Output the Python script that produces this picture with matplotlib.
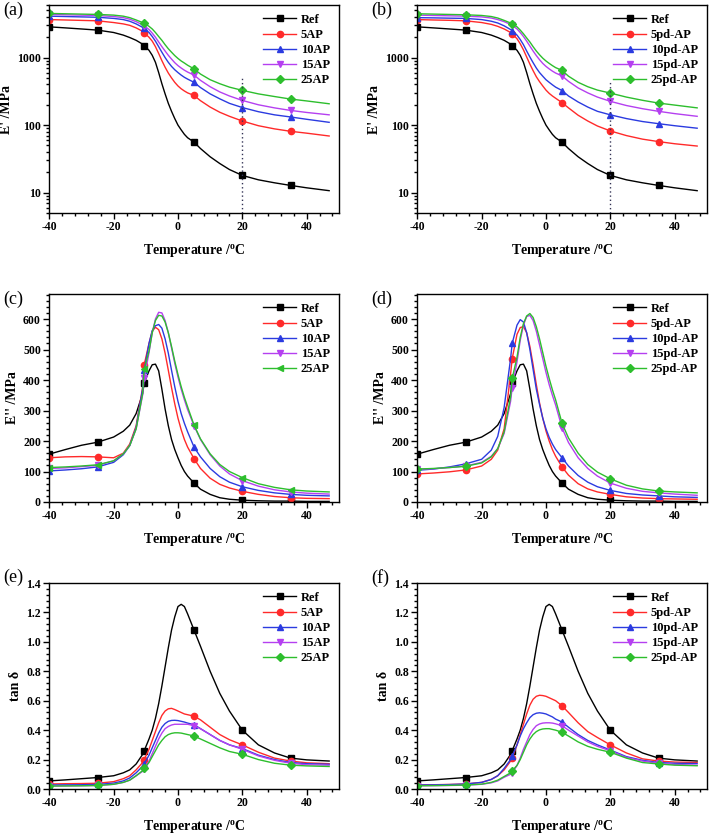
import numpy as np
import matplotlib
matplotlib.use('Agg')
import matplotlib.pyplot as plt
from matplotlib.ticker import AutoMinorLocator, NullFormatter, LogLocator

plt.rcParams['font.family'] = ['Liberation Serif', 'DejaVu Serif']
plt.rcParams['font.weight'] = 'bold'
plt.rcParams['mathtext.fontset'] = 'custom'
plt.rcParams['mathtext.rm'] = 'Liberation Serif:bold'
plt.rcParams['axes.unicode_minus'] = False

# temperature grid (deg C)
T = [-40, -35, -30, -25, -20, -17, -15, -13, -11, -10.5, -9, -8, -7, -6, -5, -4, -3,
     -2, -1, 0, 1, 2, 3, 5, 7, 10, 13, 16, 20, 25, 30, 35, 40, 47]
# indices of T where the symbols are drawn
mark_idx = [0, 3, 9, 23, 28, 31]

# ---- storage modulus E' (MPa) ----
ref_Ep = [2850, 2750, 2650, 2550, 2350, 2150, 1980, 1800, 1580, 1500, 1280, 1080, 850, 600,
          410, 290, 210, 160, 125, 100, 85, 73, 65, 56, 45, 34, 27, 22, 18, 15.5, 14, 12.8, 11.8, 10.7]
ap5_Ep = [3650, 3600, 3550, 3500, 3300, 3150, 3000, 2750, 2450, 2330, 2000, 1750, 1450, 1150,
          900, 720, 590, 500, 430, 380, 345, 320, 300, 275, 230, 185, 155, 135, 115, 98, 88, 81, 76, 69]
ap10_Ep = [4100, 4050, 4000, 3950, 3800, 3650, 3450, 3150, 2800, 2700, 2350, 2050, 1750, 1450,
           1200, 1000, 850, 740, 660, 600, 550, 510, 480, 430, 360, 290, 245, 210, 182, 158, 142, 132, 122, 110]
ap15_Ep = [4350, 4300, 4250, 4200, 4050, 3900, 3700, 3400, 3050, 2950, 2600, 2300, 2000, 1700,
           1450, 1250, 1080, 950, 840, 760, 700, 650, 610, 550, 460, 370, 310, 270, 232, 200, 180, 165, 154, 142]
ap25_Ep = [4500, 4450, 4400, 4350, 4250, 4100, 3900, 3600, 3300, 3200, 2900, 2650, 2350, 2050,
           1800, 1550, 1350, 1200, 1070, 970, 890, 830, 770, 680, 570, 470, 410, 365, 327, 290, 265, 243, 228, 207]

pd5_Ep = [3650, 3600, 3560, 3500, 3300, 3100, 2900, 2650, 2350, 2250, 1900, 1600, 1300, 1020,
          800, 640, 520, 440, 380, 330, 295, 270, 250, 215, 180, 140, 115, 97, 82, 70, 62, 57, 53, 49]
pd10_Ep = [3900, 3870, 3830, 3800, 3650, 3450, 3250, 2950, 2600, 2500, 2150, 1850, 1550, 1250,
           1020, 840, 700, 600, 530, 470, 430, 395, 365, 325, 270, 220, 185, 160, 142, 125, 113, 105, 98, 90]
pd15_Ep = [4250, 4200, 4150, 4100, 4000, 3850, 3650, 3400, 3100, 3000, 2650, 2350, 2050, 1750,
           1480, 1250, 1070, 930, 820, 740, 680, 630, 590, 535, 445, 355, 300, 260, 225, 195, 175, 160, 148, 135]
pd25_Ep = [4450, 4400, 4350, 4300, 4200, 4050, 3850, 3550, 3250, 3180, 2850, 2550, 2250, 1950,
           1700, 1450, 1250, 1100, 980, 890, 820, 760, 710, 645, 530, 430, 370, 330, 298, 260, 233, 212, 198, 180]

# ---- loss modulus E'' (MPa) ----
ref_Epp = [157, 172, 186, 196, 213, 232, 252, 290, 355, 390, 430, 450, 452, 430, 370, 305, 250,
           205, 172, 145, 120, 100, 85, 62, 42, 25, 14, 9, 6, 4, 3, 3, 2, 2]
ap5_Epp = [145, 148, 149, 148, 145, 160, 190, 250, 375, 450, 520, 560, 573, 565, 535, 488, 432,
           375, 322, 275, 237, 205, 180, 142, 110, 78, 58, 46, 35, 25, 18, 14, 12, 11]
ap10_Epp = [102, 105, 109, 115, 130, 155, 185, 245, 370, 432, 520, 562, 578, 582, 570, 535, 488,
            432, 378, 330, 290, 258, 230, 180, 148, 110, 83, 65, 50, 38, 30, 25, 22, 20]
ap15_Epp = [110, 112, 116, 120, 135, 158, 185, 240, 350, 405, 490, 555, 600, 622, 620, 595, 555,
            505, 455, 410, 370, 335, 303, 250, 205, 155, 118, 92, 70, 52, 40, 33, 29, 26]
ap25_Epp = [113, 115, 118, 122, 135, 158, 185, 240, 355, 435, 495, 555, 595, 612, 610, 590, 555,
            510, 462, 418, 378, 343, 312, 252, 207, 158, 123, 100, 80, 60, 48, 40, 36, 33]

pd5_Epp = [92, 95, 99, 105, 118, 140, 170, 240, 420, 470, 550, 572, 575, 555, 510, 450, 385,
           325, 275, 233, 200, 172, 150, 115, 88, 60, 43, 33, 25, 17, 13, 11, 10, 9]
pd10_Epp = [104, 108, 115, 125, 140, 170, 215, 310, 470, 520, 580, 598, 590, 555, 500, 435, 370,
            320, 275, 240, 212, 190, 172, 145, 118, 87, 65, 50, 38, 28, 23, 20, 17, 15]
pd15_Epp = [107, 109, 113, 118, 130, 150, 175, 225, 330, 375, 460, 530, 580, 608, 612, 595, 560,
            515, 470, 425, 385, 350, 318, 243, 195, 145, 110, 85, 62, 45, 35, 30, 26, 22]
pd25_Epp = [108, 110, 113, 117, 128, 148, 175, 230, 345, 405, 475, 540, 585, 610, 618, 605, 575,
            535, 490, 445, 405, 368, 335, 258, 210, 160, 123, 98, 76, 55, 43, 36, 33, 30]

# ---- tan delta ----
ref_tan = [0.055, 0.062, 0.07, 0.078, 0.09, 0.11, 0.13, 0.17, 0.235, 0.26, 0.34, 0.40, 0.48, 0.58,
           0.70, 0.83, 0.96, 1.08, 1.17, 1.24, 1.255, 1.24, 1.19, 1.08, 0.97, 0.80, 0.65, 0.53,
           0.40, 0.30, 0.245, 0.21, 0.198, 0.19]
ap5_tan = [0.034, 0.036, 0.037, 0.039, 0.05, 0.07, 0.09, 0.13, 0.18, 0.20, 0.27, 0.33, 0.39, 0.45,
           0.50, 0.53, 0.545, 0.548, 0.54, 0.53, 0.52, 0.51, 0.505, 0.495, 0.47, 0.42, 0.37, 0.335,
           0.30, 0.25, 0.21, 0.19, 0.178, 0.172]
ap10_tan = [0.027, 0.028, 0.029, 0.031, 0.04, 0.055, 0.075, 0.11, 0.155, 0.17, 0.23, 0.28, 0.33, 0.38,
            0.42, 0.445, 0.46, 0.466, 0.467, 0.465, 0.46, 0.455, 0.448, 0.437, 0.41, 0.37, 0.33, 0.30,
            0.275, 0.23, 0.20, 0.18, 0.172, 0.168]
ap15_tan = [0.02, 0.021, 0.022, 0.024, 0.032, 0.045, 0.06, 0.09, 0.12, 0.135, 0.19, 0.24, 0.29, 0.34,
            0.38, 0.41, 0.425, 0.435, 0.44, 0.44, 0.44, 0.44, 0.44, 0.43, 0.41, 0.37, 0.33, 0.30,
            0.27, 0.225, 0.195, 0.175, 0.165, 0.162]
ap25_tan = [0.02, 0.021, 0.022, 0.024, 0.032, 0.045, 0.06, 0.09, 0.125, 0.14, 0.18, 0.22, 0.26, 0.30,
            0.33, 0.355, 0.37, 0.378, 0.382, 0.382, 0.38, 0.375, 0.37, 0.36, 0.34, 0.31, 0.28, 0.255,
            0.236, 0.20, 0.175, 0.162, 0.157, 0.153]

pd5_tan = [0.027, 0.029, 0.031, 0.034, 0.045, 0.065, 0.09, 0.13, 0.19, 0.21, 0.30, 0.37, 0.44, 0.51,
           0.57, 0.61, 0.63, 0.637, 0.635, 0.63, 0.62, 0.61, 0.60, 0.565, 0.52, 0.45, 0.39, 0.35,
           0.30, 0.245, 0.205, 0.19, 0.183, 0.18]
pd10_tan = [0.027, 0.028, 0.03, 0.034, 0.045, 0.065, 0.09, 0.14, 0.20, 0.225, 0.30, 0.36, 0.41, 0.45,
            0.485, 0.505, 0.515, 0.518, 0.515, 0.51, 0.50, 0.49, 0.475, 0.455, 0.42, 0.37, 0.33, 0.30,
            0.265, 0.22, 0.195, 0.18, 0.175, 0.173]
pd15_tan = [0.022, 0.023, 0.024, 0.026, 0.032, 0.042, 0.055, 0.08, 0.10, 0.11, 0.16, 0.21, 0.27, 0.32,
            0.37, 0.405, 0.43, 0.442, 0.448, 0.45, 0.45, 0.448, 0.443, 0.43, 0.40, 0.36, 0.32, 0.29,
            0.26, 0.215, 0.19, 0.175, 0.167, 0.162]
pd25_tan = [0.022, 0.023, 0.025, 0.027, 0.033, 0.045, 0.06, 0.085, 0.11, 0.124, 0.16, 0.20, 0.25, 0.30,
            0.34, 0.37, 0.39, 0.402, 0.408, 0.41, 0.41, 0.405, 0.40, 0.385, 0.36, 0.32, 0.29, 0.27,
            0.25, 0.21, 0.18, 0.17, 0.162, 0.158]

ap_labels = ['Ref', '5AP', '10AP', '15AP', '25AP']
pd_labels = ['Ref', '5pd-AP', '10pd-AP', '15pd-AP', '25pd-AP']
colors = ['black', '#ff2a2a', '#2b3be0', '#b540f0', '#2dbe2d']

# vertical dotted guide at 20 C in the E' plots
guide_x = 20
guide_top = [530, 470]

fig = plt.figure(figsize=(7.1, 8.36), dpi=100)
W, H = 710, 836

def add_ax(left, top, width, height):
    return fig.add_axes([left / W, 1 - (top + height) / H, width / W, height / H])

panels = [
    ('(a)', add_ax(49.3, 5, 289.5, 208), [ref_Ep, ap5_Ep, ap10_Ep, ap15_Ep, ap25_Ep], ap_labels,
     ['s', 'o', '^', 'v', 'D'], "E' /MPa"),
    ('(b)', add_ax(417.3, 5, 289.5, 208), [ref_Ep, pd5_Ep, pd10_Ep, pd15_Ep, pd25_Ep], pd_labels,
     ['s', 'o', '^', 'v', 'D'], "E' /MPa"),
    ('(c)', add_ax(49.3, 294, 289.5, 208), [ref_Epp, ap5_Epp, ap10_Epp, ap15_Epp, ap25_Epp], ap_labels,
     ['s', 'o', '^', 'v', '<'], "E'' /MPa"),
    ('(d)', add_ax(417.3, 294, 289.5, 208), [ref_Epp, pd5_Epp, pd10_Epp, pd15_Epp, pd25_Epp], pd_labels,
     ['s', 'o', '^', 'v', 'D'], "E'' /MPa"),
    ('(e)', add_ax(49.3, 583, 289.5, 206), [ref_tan, ap5_tan, ap10_tan, ap15_tan, ap25_tan], ap_labels,
     ['s', 'o', '^', 'v', 'D'], 'tan δ'),
    ('(f)', add_ax(417.3, 583, 289.5, 206), [ref_tan, pd5_tan, pd10_tan, pd15_tan, pd25_tan], pd_labels,
     ['s', 'o', '^', 'v', 'D'], 'tan δ'),
]

for i, (tag, ax, series, labels, markers, ylab) in enumerate(panels):
    for y, lab, c, m in zip(series, labels, colors, markers):
        ax.plot(T, y, color=c, lw=1.0, marker=m, markevery=mark_idx, ms=4.5,
                label=lab)
    ax.set_xlim(-40, 50)
    ax.set_xticks([-40, -20, 0, 20, 40])
    ax.xaxis.set_minor_locator(AutoMinorLocator(5))
    if i < 2:
        ax.set_yscale('log')
        ax.set_ylim(5, 6000)
        ax.set_yticks([10, 100, 1000])
        ax.set_yticklabels(['10', '100', '1000'])
        ax.yaxis.set_minor_locator(LogLocator(base=10, subs=np.arange(2, 10)))
        ax.yaxis.set_minor_formatter(NullFormatter())
        ax.plot([guide_x, guide_x], [5, guide_top[i]], ls=(0, (1, 2)), color='#333355', lw=1.0)
    elif i < 4:
        ax.set_ylim(0, 682)
        ax.set_yticks(np.arange(0, 700, 100))
        ax.yaxis.set_minor_locator(AutoMinorLocator(5))
    else:
        ax.set_ylim(0, 1.4)
        ax.set_yticks(np.arange(0, 1.41, 0.2))
        ax.set_yticklabels(['%.1f' % v for v in np.arange(0, 1.41, 0.2)])
        ax.yaxis.set_minor_locator(AutoMinorLocator(5))
    ax.tick_params(which='both', direction='out', top=False, right=False, width=1,
                   labelsize=8.5, pad=2)
    ax.tick_params(which='major', length=4)
    ax.tick_params(which='minor', length=2)
    for s in ax.spines.values():
        s.set_linewidth(1.0)
    ax.set_xlabel(r'Temperature /$\mathrm{^{o}}$C', fontsize=10, fontweight='bold', labelpad=6)
    ax.set_ylabel(ylab, fontsize=10, fontweight='bold', labelpad=3)
    leg = ax.legend(loc='upper right', frameon=False, fontsize=9, handlelength=2.6,
                    labelspacing=0.25, handletextpad=0.4, borderaxespad=0.3, numpoints=1)
    pos = ax.get_position()
    if i < 4:
        fig.text(pos.x0 - 46 / W, pos.y1 + 3 / H, tag, fontsize=13, fontweight='normal',
                 ha='left', va='top')
    else:
        fig.text(pos.x0 - 46 / W, pos.y1 + 14 / H, tag, fontsize=13, fontweight='normal',
                 ha='left', va='top')

fig.savefig('out.png', dpi=100)
